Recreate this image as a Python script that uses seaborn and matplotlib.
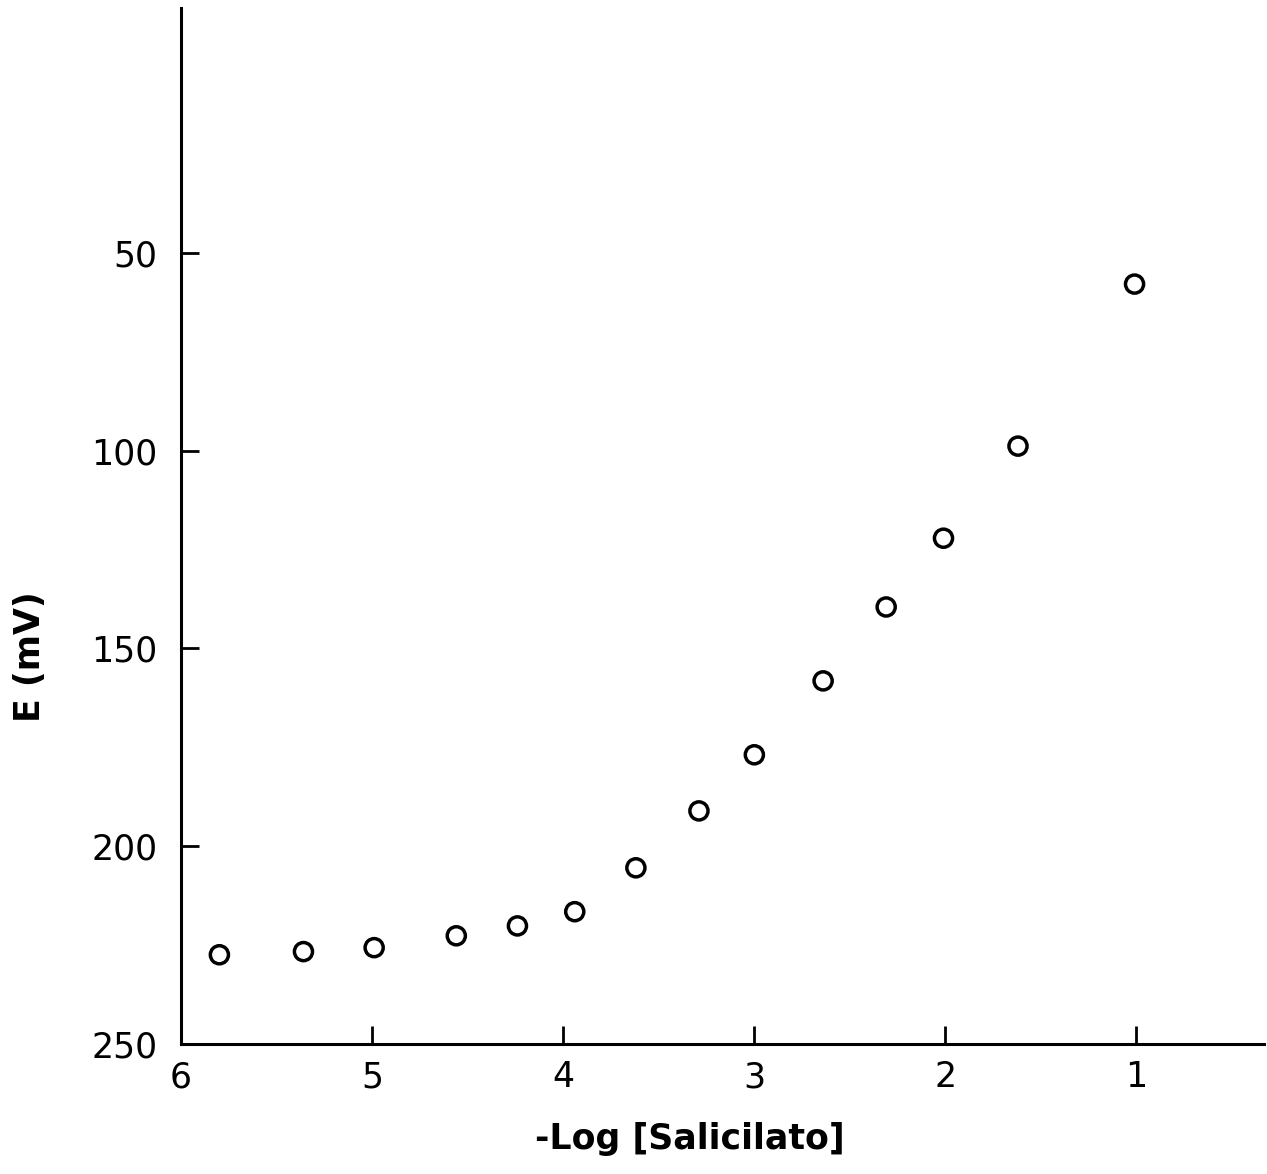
#!/usr/bin/env python3
# coding=utf-8
import matplotlib
matplotlib.use('Agg')
import matplotlib.pyplot as plt
import pandas as pd
import seaborn as sns

# -log[salicilato] vs potential (mV)
log_salicilato = [5.80, 5.36, 4.99, 4.56, 4.24, 3.94, 3.62, 3.29, 3.00,
                  2.64, 2.31, 2.01, 1.62, 1.01]
e_mv = [227.5, 226.7, 225.7, 222.7, 220.2, 216.6, 205.5, 191.1, 176.9,
        158.2, 139.5, 122.1, 98.8, 57.8]
x_ticks = [6, 5, 4, 3, 2, 1]
y_ticks = [50, 100, 150, 200, 250]


def main():
    sns.set_style('white')
    plt.rcParams['font.family'] = ['DejaVu Sans']

    df = pd.DataFrame({'x': log_salicilato, 'E': e_mv})

    fig = plt.figure(figsize=(12.67, 11.74), dpi=100)
    ax = fig.add_axes([0.143, 0.111, 0.855, 0.882])

    sns.scatterplot(data=df, x='x', y='E', ax=ax, marker='o', s=170,
                    facecolor='none', edgecolor='black', linewidth=2.5)

    ax.set_xlim(6, 0.33)
    ax.set_ylim(250, -12)
    ax.set_xticks(x_ticks)
    ax.set_xticklabels([str(t) for t in x_ticks])
    ax.set_yticks(y_ticks)
    ax.set_yticklabels([str(t) for t in y_ticks])

    for side in ['top', 'right']:
        ax.spines[side].set_visible(False)
    for side in ['left', 'bottom']:
        ax.spines[side].set_linewidth(2.2)
        ax.spines[side].set_color('black')

    ax.tick_params(axis='both', direction='in', length=13, width=2,
                   color='black', labelsize=25, labelcolor='black',
                   bottom=True, left=True)
    ax.tick_params(axis='y', pad=17)
    ax.tick_params(axis='x', pad=12)
    # the "6" at the corner sits on the spine, no tick drawn there
    ax.xaxis.get_major_ticks()[0].tick1line.set_visible(False)
    ax.yaxis.get_major_ticks()[-1].tick1line.set_visible(False)

    ax.set_xlabel('-Log [Salicilato]', fontsize=25, fontweight='bold',
                  color='black', labelpad=20)
    ax.set_ylabel('E (mV)', fontsize=25, fontweight='bold', color='black',
                  labelpad=32)
    ax.xaxis.label.set_x(0.47)
    ax.yaxis.label.set_y(0.374)

    plt.savefig('out.png', dpi=100)
    plt.close('all')


if __name__ == '__main__':
    main()
